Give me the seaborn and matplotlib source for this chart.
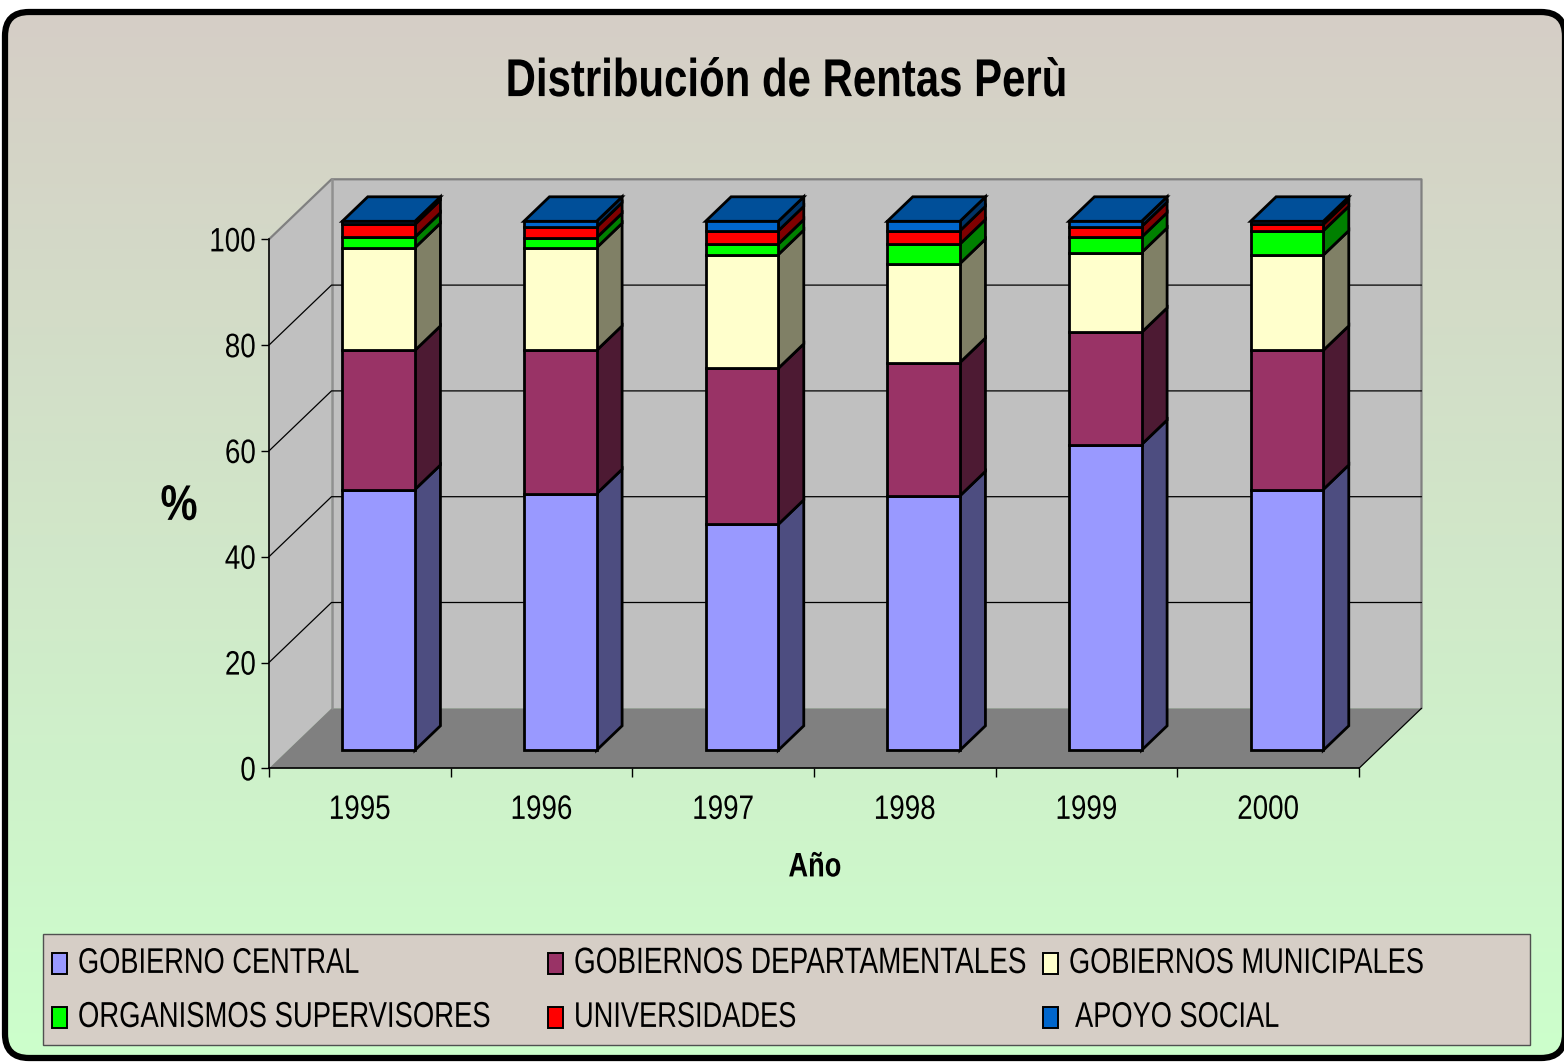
import matplotlib
matplotlib.use("Agg")
import matplotlib.pyplot as plt
import numpy as np
import seaborn as sns
from matplotlib.patches import FancyBboxPatch, Polygon, Rectangle
from matplotlib.patheffects import AbstractPathEffect
from matplotlib.transforms import Affine2D, IdentityTransform

YEARS = ['1995', '1996', '1997', '1998', '1999', '2000']
GOB_CENTRAL = [49.3, 48.5, 42.7, 48.1, 57.8, 49.3]
GOB_DEPTO = [26.3, 27.1, 29.5, 25.2, 21.2, 26.3]
GOB_MUNI = [19.4, 19.4, 21.5, 18.7, 15.1, 18.0]
ORG_SUPER = [2.0, 1.9, 2.0, 3.7, 2.9, 4.6]
UNIVERSIDADES = [2.4, 2.0, 2.5, 2.5, 2.0, 1.2]
APOYO_SOCIAL = [0.6, 1.1, 1.8, 1.8, 1.0, 0.6]
LABELS = ['GOBIERNO CENTRAL', 'GOBIERNOS DEPARTAMENTALES', 'GOBIERNOS MUNICIPALES',
          'ORGANISMOS SUPERVISORES', 'UNIVERSIDADES', ' APOYO SOCIAL']

SERIES = [GOB_CENTRAL, GOB_DEPTO, GOB_MUNI, ORG_SUPER, UNIVERSIDADES, APOYO_SOCIAL]
FACE = ['#9999FF', '#993366', '#FFFFCC', '#00FF00', '#FF0000', '#0066CC']
SIDE = ['#4D4D80', '#4D1A33', '#808066', '#008000', '#800000', '#003366']
TOP = '#004F99'

W, H = 1564, 1062


class Tall(AbstractPathEffect):
    # the reference font is a squeezed Arial: small font size, glyphs stretched upward
    def __init__(self, s):
        super().__init__()
        self.s = s

    def draw_path(self, renderer, gc, tpath, affine, rgbFace=None):
        e = tpath.get_extents()
        m = (e.y0 + e.y1) / 2
        st = Affine2D().translate(0, -m).scale(1, self.s).translate(0, m)
        renderer.draw_path(gc, tpath, st + affine, rgbFace)


sns.set_theme(style='white')
plt.rcParams['font.family'] = ['Liberation Sans', 'DejaVu Sans']

fig = plt.figure(figsize=(W / 100, H / 100), dpi=100, facecolor='white')

# background with the rounded black border
bg = fig.add_axes([0, 0, 1, 1], zorder=0)
bg.axis('off')
top_c = np.array([0xD6, 0xCE, 0xC6]) / 255
bot_c = np.array([0xCC, 0xFF, 0xCC]) / 255
t = np.linspace(0, 1, 256)[:, None, None]
grad = top_c[None, None, :] * (1 - t) + bot_c[None, None, :] * t
img = bg.imshow(grad, extent=(0, W, 1058, 12), aspect='auto', zorder=1)
bg.set_xlim(0, W)
bg.set_ylim(H, 0)
frame = FancyBboxPatch((5, 12), 1560, 1046, boxstyle='round,pad=0,rounding_size=24',
                       fc='none', ec='black', lw=4.5, zorder=3, clip_on=False)
bg.add_patch(frame)
img.set_clip_path(frame)

# the axes sits on the front plane of the 3D box
x0, x1, y0, y100 = 269, 1359, 768.3, 239.3
ax = fig.add_axes([x0 / W, 1 - y0 / H, (x1 - x0) / W, (y0 - y100) / H], zorder=1)
ax.patch.set_alpha(0)

base = np.zeros(len(YEARS))
for vals, col in zip(SERIES, FACE):
    sns.barplot(x=YEARS, y=vals, bottom=base, color=col, saturation=1, width=0.4,
                edgecolor='black', linewidth=2.0, ax=ax, zorder=5)
    base = base + np.array(vals)
ax.set_xlim(-0.5, 5.5)
ax.set_ylim(0, 100)


def proj(x, y, d):
    px, py = ax.transData.transform((x, y))
    return px + d * 62.5 / 60, py + d


def poly(pts, fc, ec='black', lw=1.0, z=1):
    ax.add_patch(Polygon(pts, closed=True, fc=fc, ec=ec, lw=lw, zorder=z, joinstyle='miter',
                         transform=IdentityTransform(), clip_on=False))


def seg(pts, color='black', lw=0.9, z=2):
    ax.plot(*zip(*pts), color=color, lw=lw, transform=IdentityTransform(), clip_on=False, zorder=z)


# walls and floor
poly([proj(-0.5, 0, 0), proj(-0.5, 100, 0), proj(-0.5, 100, 60), proj(-0.5, 0, 60)], '#C0C0C0', 'none')
poly([proj(-0.5, 0, 60), proj(-0.5, 100, 60), proj(5.5, 100, 60), proj(5.5, 0, 60)], '#C0C0C0', 'none')
poly([proj(-0.5, 0, 0), proj(5.5, 0, 0), proj(5.5, 0, 60), proj(-0.5, 0, 60)], '#808080', 'none', 1.0, 1.5)
seg([proj(-0.5, 100, 0), proj(-0.5, 100, 60), proj(5.5, 100, 60), proj(5.5, 0, 60)], '#808080', 1.6)
seg([proj(-0.5, 100, 60), proj(-0.5, 0, 60)], '#909090', 1.8)
seg([proj(5.5, 0, 0), proj(5.5, 0, 60)], 'black', 0.9)
for g in [20, 40, 60, 80]:
    seg([proj(-0.5, g, 0), proj(-0.5, g, 60), proj(5.5, g, 60)])

# bars: move the seaborn front faces into the box, then add their side and top faces
front = Affine2D().translate(18 * 62.5 / 60, 18)
bars = [b for b in ax.patches if isinstance(b, Rectangle)]
for i, b in enumerate(bars):
    b.set_transform(ax.transData + front)
    b.set_clip_on(False)
    b.set_zorder(5)
    s = i // len(YEARS)
    xl, xr = b.get_x(), b.get_x() + b.get_width()
    yb, yt = b.get_y(), b.get_y() + b.get_height()
    poly([proj(xr, yb, 18), proj(xr, yt, 18), proj(xr, yt, 42.5), proj(xr, yb, 42.5)], SIDE[s], 'black', 2.0, 4)
    if s == len(SERIES) - 1:
        poly([proj(xl, yt, 18), proj(xr, yt, 18), proj(xr, yt, 42.5), proj(xl, yt, 42.5)], TOP, 'black', 2.0, 4)

# axis look
sns.despine(ax=ax, top=True, right=True)
for sp in ['left', 'bottom']:
    ax.spines[sp].set_color('black')
    ax.spines[sp].set_linewidth(1.2)
    ax.spines[sp].set_zorder(3)
ax.set_yticks([0, 20, 40, 60, 80, 100])
ax.set_xticks(range(len(YEARS)))
ax.set_xticklabels(YEARS)
ax.set_xticks(np.arange(-0.5, 6), minor=True)
ax.tick_params(axis='y', left=True, length=6, width=1.0, color='black', labelsize=20, pad=3.5, labelcolor='black')
ax.tick_params(axis='x', which='major', bottom=False, length=0, labelsize=20, pad=20.5, labelcolor='black')
ax.tick_params(axis='x', which='minor', bottom=True, length=6.3, width=1.0, color='black')
ax.set_xlabel('')
ax.set_ylabel('')
ax.grid(False)
for lab in ax.get_xticklabels() + ax.get_yticklabels():
    lab.set_path_effects([Tall(1.22)])

# titles
txt = dict(color='black', zorder=6)
bg.text(786, 81, 'Distribución de Rentas Perù', fontsize=30.2, fontweight='bold', ha='center', va='center',
        path_effects=[Tall(1.27)], **txt)
bg.text(179, 506, '%', fontsize=30, fontweight='bold', ha='center', va='center', path_effects=[Tall(1.2)], **txt)
bg.text(815, 867, 'Año', fontsize=19.6, fontweight='bold', ha='center', va='center', path_effects=[Tall(1.25)], **txt)

# legend box, two rows of three
bg.add_patch(Rectangle((43, 934), 1487, 111, fc='#D6CEC6', ec='#505050', lw=1.0, zorder=4))
col_x = [52, 548, 1043]
row_y = [963, 1017]
sizes = [19.6, 20.1, 19.6, 19.75, 19.6, 19.6]
for s, name in enumerate(LABELS):
    lx, ly = col_x[s % 3], row_y[s // 3]
    bg.add_patch(Rectangle((lx, ly - 10), 14.5, 21, fc=FACE[s], ec='black', lw=1.4, zorder=5))
    bg.text(lx + 26, ly, name, fontsize=sizes[s], ha='left', va='center', path_effects=[Tall(1.31)], **txt)

fig.savefig('out.png', dpi=100)
